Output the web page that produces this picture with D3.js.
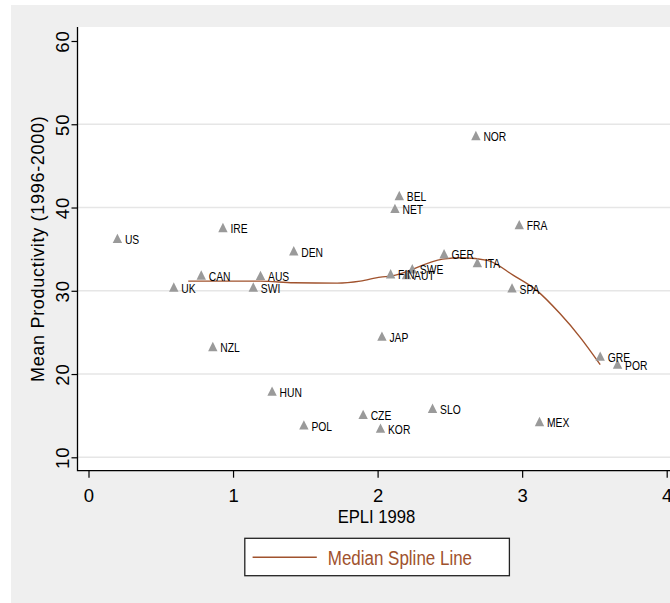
<!DOCTYPE html>
<html>
<head>
<meta charset="utf-8">
<script src="https://cdn.jsdelivr.net/npm/d3@7"></script>
<style>
  body { margin: 0; background: #fff; }
  svg { display: block; font-family: "Liberation Sans", Arial, sans-serif; }
  .grid line { stroke: #e6e6e6; stroke-width: 1.5; }
  .frame { stroke: #000; stroke-width: 1.3; fill: none; }
  .tick line { stroke: #000; stroke-width: 1.2; }
</style>
</head>
<body>
<svg id="chart" width="670" height="603"></svg>
<script>
const countries = ["US", "UK", "CAN", "IRE", "NZL", "SWI", "AUS", "HUN", "DEN", "POL",
  "CZE", "JAP", "KOR", "FIN", "NET", "BEL", "AUT", "SWE", "SLO", "GER",
  "NOR", "ITA", "SPA", "FRA", "MEX", "GRE", "POR"];
const epli = [0.20, 0.59, 0.78, 0.93, 0.86, 1.14, 1.19, 1.27, 1.42, 1.49,
  1.90, 2.03, 2.02, 2.09, 2.12, 2.15, 2.20, 2.24, 2.38, 2.46,
  2.68, 2.69, 2.93, 2.98, 3.12, 3.54, 3.66];
const productivity = [36.3, 30.45, 31.9, 37.6, 23.3, 30.45, 31.85, 17.95, 34.8, 13.9,
  15.15, 24.55, 13.5, 32.05, 39.9, 41.45, 31.95, 32.65, 15.9, 34.45,
  48.65, 33.4, 30.35, 37.95, 14.3, 22.15, 21.2];

// median spline
const splineX = [0.69, 1.19, 1.42, 1.72, 1.88, 2.02, 2.09, 2.45, 2.59, 2.76, 2.94, 3.10, 3.26, 3.40, 3.54];
const splineY = [31.16, 31.16, 30.97, 30.92, 31.16, 31.64, 31.76, 33.8, 33.97, 33.65, 31.85, 30.05, 27.29, 24.44, 21.13];

const xTicks = [0, 1, 2, 3, 4];
const yTicks = [10, 20, 30, 40, 50, 60];
const gridTicks = [10, 20, 30, 40, 50];

const sienna = "#a0522d";

const plot = { left: 77.5, right: 676, top: 27, bottom: 470.7 };

const svg = d3.select("#chart");

const x = d3.scaleLinear().domain([0, 4]).range([88.5, 666.7]);
const y = d3.scaleLinear().domain([10, 60]).range([457.3, 41]);

// backgrounds
svg.append("rect")
  .attr("x", 11).attr("y", 5)
  .attr("width", 670).attr("height", 610)
  .attr("fill", "#efefef");

svg.append("rect")
  .attr("x", plot.left).attr("y", plot.top)
  .attr("width", plot.right - plot.left)
  .attr("height", plot.bottom - plot.top)
  .attr("fill", "#fff");

// gridlines
svg.append("g")
  .attr("class", "grid")
  .selectAll("line")
  .data(gridTicks)
  .join("line")
  .attr("x1", plot.left).attr("x2", plot.right)
  .attr("y1", d => y(d)).attr("y2", d => y(d));

// axes
const xAxis = svg.append("g")
  .attr("transform", `translate(0,${plot.bottom})`)
  .call(d3.axisBottom(x).tickValues(xTicks).tickSize(7).tickPadding(4).tickFormat(d3.format("d")));
xAxis.select(".domain").remove();
xAxis.selectAll("text")
  .attr("fill", "#000")
  .attr("font-size", 18.5)
  .attr("font-family", "Liberation Sans, Arial, sans-serif")
  .attr("dy", 0)
  .attr("y", 31);

const yAxis = svg.append("g")
  .attr("transform", `translate(${plot.left},0)`)
  .call(d3.axisLeft(y).tickValues(yTicks).tickSize(6).tickFormat(d3.format("d")));
yAxis.select(".domain").remove();
yAxis.selectAll("text")
  .attr("fill", "#000")
  .attr("font-size", 18.5)
  .attr("font-family", "Liberation Sans, Arial, sans-serif")
  .attr("text-anchor", "middle")
  .attr("transform", "rotate(-90)")
  .attr("x", 0)
  .attr("y", -9)
  .attr("dy", 0)
  .attr("letter-spacing", 1);

svg.append("path")
  .attr("class", "frame")
  .attr("d", `M${plot.left},${plot.top}V${plot.bottom}H${plot.right}`);

// axis titles
svg.append("text")
  .attr("transform", `translate(376.5,522.7) scale(0.9,1)`)
  .attr("text-anchor", "middle")
  .attr("font-size", 18.5)
  .text("EPLI 1998");

svg.append("text")
  .attr("transform", `translate(44,${(plot.top + plot.bottom) / 2}) rotate(-90)`)
  .attr("text-anchor", "middle")
  .attr("font-size", 18)
  .attr("letter-spacing", 0.7)
  .text("Mean Productivity (1996-2000)");

// median spline
const splineData = splineX.map((d, i) => ({ x: d, y: splineY[i] }));
const line = d3.line()
  .x(d => x(d.x))
  .y(d => y(d.y))
  .curve(d3.curveMonotoneX);

svg.append("path")
  .datum(splineData)
  .attr("d", line)
  .attr("fill", "none")
  .attr("stroke", sienna)
  .attr("stroke-width", 1.4);

// points
const points = countries.map((c, i) => ({ name: c, x: epli[i], y: productivity[i] }));
const tri = "M0,-4.7L4.7,4.7L-4.7,4.7Z";

svg.append("g")
  .selectAll("path")
  .data(points)
  .join("path")
  .attr("d", tri)
  .attr("transform", d => `translate(${x(d.x)},${y(d.y)})`)
  .attr("fill", "#9a9a9a");

svg.append("g")
  .selectAll("text")
  .data(points)
  .join("text")
  .attr("transform", d => `translate(${x(d.x) + 7.5},${y(d.y) + 5.7}) scale(0.86,1)`)
  .attr("font-size", 12)
  .attr("fill", "#000")
  .text(d => d.name);

// legend
const legend = svg.append("g").attr("transform", "translate(244.8,538.3)");
legend.append("rect")
  .attr("width", 264.6).attr("height", 37.4)
  .attr("fill", "#fff")
  .attr("stroke", "#222")
  .attr("stroke-width", 1.3);
legend.append("line")
  .attr("x1", 7.8).attr("x2", 72)
  .attr("y1", 19).attr("y2", 19)
  .attr("stroke", sienna)
  .attr("stroke-width", 1.4);
legend.append("text")
  .attr("transform", "translate(83,26.5) scale(0.87,1)")
  .attr("font-size", 19.5)
  .attr("fill", sienna)
  .text("Median Spline Line");
</script>
</body>
</html>
